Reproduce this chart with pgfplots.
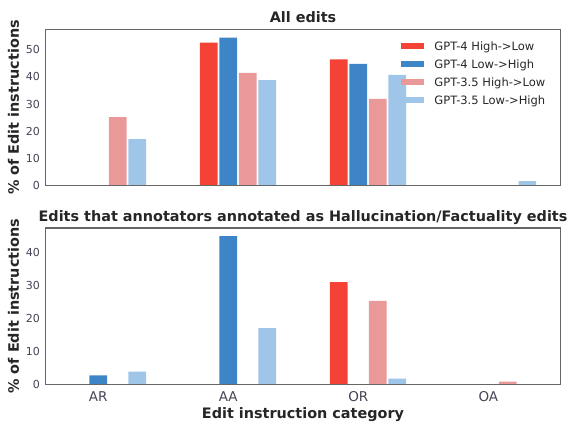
\documentclass[border=0pt]{standalone}
\usepackage{fontspec}
\setmainfont{DejaVu Sans}
\usepackage{pgfplots}
\pgfplotsset{compat=1.18}

\definecolor{cRed}{HTML}{F44336}
\definecolor{cBlue}{HTML}{3D85C6}
\definecolor{cPink}{HTML}{EA9999}
\definecolor{cLBlue}{HTML}{9FC5E8}
\definecolor{spine}{HTML}{666666}
\definecolor{tick}{HTML}{444455}
\definecolor{lab}{HTML}{262626}

\pgfplotsset{
  panel/.style={
    scale only axis, width=515pt, ymin=0,
    xmin=-0.405, xmax=3.555,
    axis line style={draw=spine, line width=1.2pt},
    tick style={draw=none},
    xtick={0,1,2,3},
    axis on top,
    /pgf/number format/assume math mode=true,
    yticklabel style={font=\fontsize{11}{13}\selectfont, text=tick, inner sep=0pt, xshift=-5.5pt},
    xticklabel style={font=\fontsize{13.5}{16}\selectfont, text=tick, inner sep=0pt, yshift=-7.4pt},
    every axis title/.style={at={(axis description cs:0.5,1)}, anchor=base, yshift=6.6pt,
      font=\fontsize{14.4}{17}\selectfont\bfseries, text=lab},
    every axis y label/.style={at={(axis description cs:-0.0515,0.5)}, rotate=90, anchor=base,
      font=\fontsize{14.4}{17}\selectfont\bfseries, text=lab},
    every axis x label/.style={at={(axis description cs:0.5,0)}, anchor=base, yshift=-34.2pt,
      font=\fontsize{14.4}{17}\selectfont\bfseries, text=lab},
    ylabel={\% of Edit instructions},
  },
  mybar/.style={ybar, bar width=0.136, draw=none, fill=#1,
    legend image code/.code={\fill[#1] (0pt,1.2pt) rectangle (22.6pt,7.2pt);}},
}

\begin{document}
\begin{tikzpicture}
% top panel: all edits
\begin{axis}[panel, name=top, at={(45.5pt,-185.7pt)}, anchor=south west,
    height=156.4pt, ymax=57.5, ytick={0,10,20,30,40,50},
    xticklabels={},
    title={All edits},
    legend style={at={(axis description cs:0.683,0.944)}, anchor=north west,
      draw=none, fill=none, inner xsep=3.7pt, inner ysep=3pt,
      row sep=6pt, column sep=10.7pt,
      nodes={inner sep=0pt, text height=9pt, text depth=3pt, anchor=base west,
        font=\fontsize{11.5}{14}\selectfont, text=lab}},
  ]
\addplot[mybar=cRed, bar shift=-0.15] coordinates {(0,0) (1,52.6) (2,46.4) (3,0)};
\addplot[mybar=cBlue, bar shift=0] coordinates {(0,0) (1,54.4) (2,44.8) (3,0)};
\addplot[mybar=cPink, bar shift=0.15] coordinates {(0,25.2) (1,41.5) (2,31.9) (3,0)};
\addplot[mybar=cLBlue, bar shift=0.3] coordinates {(0,17.1) (1,38.8) (2,40.7) (3,1.7)};
\legend{GPT-4 High->Low, GPT-4 Low->High, GPT-3.5 High->Low, GPT-3.5 Low->High}
\end{axis}

% bottom panel: hallucination / factuality edits
\begin{axis}[panel, name=bot, at={(45.5pt,-384.3pt)}, anchor=south west,
    height=156.3pt, ymax=47.4, ytick={0,10,20,30,40},
    xticklabels={AR,AA,OR,OA},
    title={Edits that annotators annotated as Hallucination/Factuality edits},
    xlabel={Edit instruction category},
  ]
\addplot[mybar=cRed, bar shift=-0.15] coordinates {(0,0) (1,0) (2,31.0) (3,0)};
\addplot[mybar=cBlue, bar shift=0] coordinates {(0,2.7) (1,44.9) (2,0) (3,0)};
\addplot[mybar=cPink, bar shift=0.15] coordinates {(0,0) (1,0) (2,25.3) (3,0.8)};
\addplot[mybar=cLBlue, bar shift=0.3] coordinates {(0,3.85) (1,17.0) (2,1.7) (3,0)};
\end{axis}

\pgfresetboundingbox
\path[use as bounding box] (0,0) rectangle (567pt,-425pt);
\end{tikzpicture}
\end{document}
